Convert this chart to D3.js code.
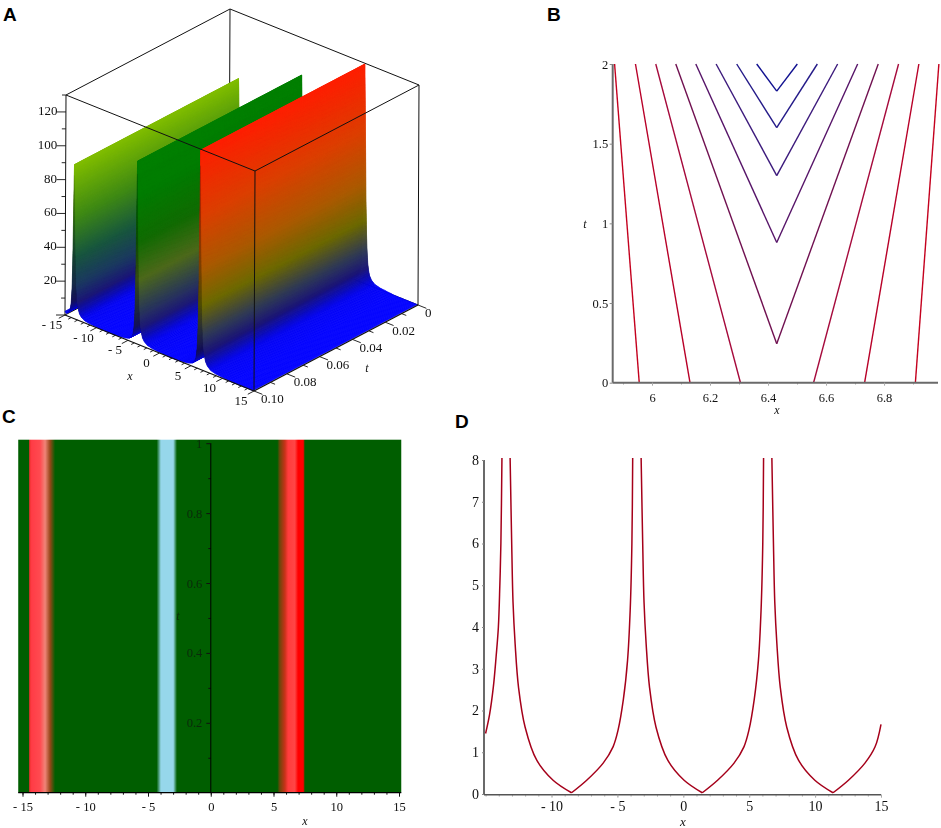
<!DOCTYPE html>
<html><head><meta charset="utf-8">
<script src="https://cdn.jsdelivr.net/npm/d3@7"></script>
<style>
html,body{margin:0;padding:0;background:#fff}
svg{display:block}
text{font-family:"Liberation Serif",serif;fill:#111}
.letter{font-family:"Liberation Sans",sans-serif;font-weight:700;font-size:19px;fill:#000}
.soft{filter:blur(.35px)}
.ax text{font-size:12.5px;font-family:"Liberation Serif",serif}
.ax.big text{font-size:14px}
.ital{font-style:italic;font-size:12px}
</style></head><body>
<svg id="c" width="941" height="828" viewBox="0 0 941 828"></svg>
<script>
// ---------- Panel A data ----------
const crestX=[-13.6,-3.6,6.4];
const crestPeak=[91,108,129.5];
const crestOffset=[0.05,0.1,0.15,0.2,0.3,0.4,0.5,0.6,0.75,0.9,1.2,1.7,2.5,5];
const crestShare=[0.93,0.82,0.69,0.57,0.36,0.22,0.15,0.10,0.065,0.045,0.028,0.015,0.008,0];
const crestBackNarrow=0.7;
const zLevels=[0,1.5,5,10,20,38,60,90,130];
const limeShades=["#0000ff","#0000f4","#0a0ab4","#1c1878","#1c3a62","#1a5a3c","#3f8a14","#7fbc00","#8cc800"];
const greenShades=["#0000ff","#0000f4","#0a0ab4","#1e1a78","#2c3a58","#4e6a1c","#126c04","#007e00","#008000"];
const redShades=["#0000ff","#0000f4","#0a0ab4","#1c1678","#303a58","#6e6a00","#ac5a00","#dc4000","#ff1e00"];
const xTicksA=[-15,-10,-5,0,5,10,15];
const xMinorA=d3.range(-15,16,1);
const tTicksA=[0,0.02,0.04,0.06,0.08,0.10];
const tMinorA=[0.01,0.03,0.05,0.07,0.09];
const zTicksA=[20,40,60,80,100,120];
const zMinorA=[10,30,50,70,90,110,130];
// ---------- Panel B data ----------
const contourLines=[
 [[5.871,2],[5.956,0]],
 [[5.943,2],[6.131,0]],
 [[6.013,2],[6.305,0]],
 [[6.082,2],[6.43,0.245]],
 [[6.151,2],[6.43,0.88]],
 [[6.221,2],[6.43,1.3]],
 [[6.292,2],[6.43,1.6]],
 [[6.361,2],[6.43,1.83]],
 [[6.43,1.83],[6.501,2]],
 [[6.43,1.6],[6.57,2]],
 [[6.43,1.3],[6.64,2]],
 [[6.43,0.88],[6.709,2]],
 [[6.43,0.245],[6.78,2]],
 [[6.557,0],[6.85,2]],
 [[6.733,0],[6.92,2]],
 [[6.908,0],[6.989,2]]
];
const contourShade=["#c4001e","#b80028","#a60a3c","#701050","#561468","#3c1a7c","#241a88","#101090",
 "#101090","#241a88","#3c1a7c","#561468","#701050","#a60a3c","#b80028","#c4001e"];
const xTicksB=[6,6.2,6.4,6.6,6.8];
const xMinorB=[5.9,6.1,6.3,6.5,6.7,6.9];
const tTicksB=[0,0.5,1,1.5,2];
// ---------- Panel C data ----------
const fieldX=[-15.34,15.18];
const fieldT=[0,1.01];
const bandX=[-14.5,-14.43,-14.27,-13.6,-13.2,-12.8,-12.4,-4.31,-3.97,-2.99,-2.69,5.3,5.5,5.91,6.16,6.7,6.96,7.37,7.5];
const bandColor=["#005e00","#f03030","#ff3c46","#ff4a50","#f08478","#964618","#005e00","#005e00","#96d7eb","#96d7eb","#005e00","#005e00","#6e460a","#c83219","#ff3c3c","#ff4646","#ff0000","#ff0000","#005e00"];
const xTicksC=[-15,-10,-5,0,5,10,15];
const xMinorC=d3.range(-15,16,1);
const tTicksC=[0.2,0.4,0.6,0.8,1];
const tMinorC=[0.1,0.3,0.5,0.7,0.9];
// ---------- Panel D data ----------
const curveX=[-15,-14.7,-14.41,-14.2,-14.03,-13.92,-13.84,-13.76,null,
 -13.14,-13.02,-12.92,-12.76,-12.5,-12.0,-11.12,-9.88,-8.48,null,
 -8.48,-7.33,-6.08,-5.33,-4.95,-4.55,-4.23,-4.03,-3.9,-3.84,null,
 -3.2,-3.08,-2.98,-2.82,-2.56,-2.07,-1.18,0.06,1.44,null,
 1.44,2.6,3.85,4.6,4.98,5.38,5.7,5.9,6.03,6.09,null,
 6.72,6.84,6.94,7.1,7.36,7.85,8.74,9.98,11.36,null,
 11.36,12.53,13.78,14.55,15];
const curveY=[1.45,1.9,2.57,3.3,4.0,5,6,8.05,null,
 8.05,6,4.6,3.6,2.55,1.6,0.81,0.33,0.03,null,
 0.03,0.33,0.74,1.13,1.53,2.26,3.2,4.4,6,8.05,null,
 8.05,6,4.6,3.6,2.55,1.6,0.81,0.33,0.03,null,
 0.03,0.33,0.74,1.13,1.53,2.26,3.2,4.4,6,8.05,null,
 8.05,6,4.6,3.6,2.55,1.6,0.81,0.33,0.03,null,
 0.03,0.33,0.74,1.13,1.67];
const xTicksD=[-10,-5,0,5,10,15];
const xMinorD=d3.range(-15,16,1);
const yTicksD=[0,1,2,3,4,5,6,7,8];

const svg=d3.select("#c");
const letters=[["A",3,21],["B",547,21],["C",2,423],["D",455,428]];
svg.selectAll("text.letter").data(letters).join("text").attr("class","letter")
  .attr("x",d=>d[1]).attr("y",d=>d[2]).text(d=>d[0]);

// ========== Panel A ==========
(function(){
 const g=svg.append("g").attr("class","soft");
 const sx=d3.scaleLinear().domain([-15,15]).range([[65,315],[254,391]]);
 const st=d3.scaleLinear().domain([0,0.1]).range([[164,-86],[0,0]]);
 const sz=d3.scaleLinear().domain([0,130]).range([[0,0],[1,-220]]);
 const P=(x,t,z)=>{const a=sx(x),b=st(t),c=sz(z);return [a[0]+b[0]+c[0],a[1]+b[1]+c[1]];};
 const edge=(a,b,w=1)=>g.append("line").attr("x1",a[0]).attr("y1",a[1]).attr("x2",b[0]).attr("y2",b[1]).attr("stroke","#111").attr("stroke-width",w);
 edge(P(-15,0,130),P(-15,0,0)); edge(P(-15,0,0),P(-15,0.1,0)); edge(P(-15,0,0),P(15,0,0));
 edge(P(-15,0,130),P(15,0,130)); edge(P(-15,0,130),P(-15,0.1,130));
 edge(P(15,0,130),P(15,0,0)); edge(P(-15,0.1,130),P(-15,0.1,0));
 const pal=[limeShades,greenShades,redShades].map(r=>d3.scaleLinear().domain(zLevels).range(r).interpolate(d3.interpolateRgb));
 let prof=[];
 crestX.forEach((c,i)=>{
   const pts=[];
   crestOffset.slice().reverse().forEach((o,j)=>{const s=crestShare[crestOffset.length-1-j];pts.push({x:c-o*crestBackNarrow,z:crestPeak[i]*s,i,back:true});});
   pts.push({x:c,z:crestPeak[i],i,back:false});
   crestOffset.forEach((o,j)=>pts.push({x:c+o,z:crestPeak[i]*crestShare[j],i,back:false}));
   prof=prof.concat(pts);
 });
 prof=prof.filter(d=>d.x>=-15);
 prof.unshift({x:-15,z:2.2,i:0,back:true});
 prof.push({x:14.85,z:0,i:2,back:false});
 prof.sort((a,b)=>a.x-b.x);
 const quads=[];
 for(let k=0;k<prof.length-1;k++){
   const a=prof[k],b=prof[k+1];
   const n=Math.max(1,Math.ceil(Math.abs(a.z-b.z)*3),Math.ceil(Math.abs(b.x-a.x)*5));
   for(let m=0;m<n;m++){
     const x0=a.x+(b.x-a.x)*m/n,x1=a.x+(b.x-a.x)*(m+1)/n;
     const z0=a.z+(b.z-a.z)*m/n,z1=a.z+(b.z-a.z)*(m+1)/n;
     const zm=(z0+z1)/2;
     let col=pal[b.i](zm);
     if(b.back&&zm>3) col=d3.color(col).darker(Math.min(0.9,(zm-3)*0.15)).formatRgb();
     quads.push({pts:[P(x0,0,z0),P(x1,0,z1),P(x1,0.1,z1),P(x0,0.1,z0)],col});
   }
 }
 g.append("g").selectAll("polygon").data(quads).join("polygon")
  .attr("points",d=>d.pts.map(p=>p[0].toFixed(2)+","+p[1].toFixed(2)).join(" "))
  .attr("fill",d=>d.col).attr("stroke",d=>d.col).attr("stroke-width",0.7);
 edge(P(-15,0.1,130),P(15,0.1,130)); edge(P(15,0.1,130),P(15,0,130));
 edge(P(15,0.1,130),P(15,0.1,0)); edge(P(-15,0.1,0),P(15,0.1,0),1.3); edge(P(15,0.1,0),P(15,0,0),1.3);
 const tick=(p,d,len)=>edge(p,[p[0]+d[0]*len,p[1]+d[1]*len],0.9);
 xMinorA.forEach(v=>tick(P(v,0.1,0),[-0.886,0.465],xTicksA.includes(v)?7:3.5));
 tTicksA.forEach(v=>tick(P(15,v,0),[0.93,0.37],9));
 tMinorA.forEach(v=>tick(P(15,v,0),[0.93,0.37],5));
 zTicksA.forEach(v=>tick(P(-15,0.1,v),[-1,0],9));
 zMinorA.forEach(v=>tick(P(-15,0.1,v),[-1,0],4));
 tick(P(-15,0.1,0),[-1,0],9);
 const label=(s,p,anc)=>g.append("text").attr("x",p[0]).attr("y",p[1]).attr("text-anchor",anc).attr("dominant-baseline","middle").style("font-size","13px").text(s);
 xTicksA.forEach(v=>{const p=P(v,0.1,0);label(v<0?"- "+(-v):String(v),[p[0]-13,p[1]+11],"middle");});
 tTicksA.forEach(v=>{const p=P(15,v,0);label(v===0?"0":v.toFixed(2),[p[0]+7,p[1]+9.5],"start");});
 zTicksA.forEach(v=>{const p=P(-15,0.1,v);label(String(v),[p[0]-8.5,p[1]],"end");});
 g.append("text").attr("class","ital").attr("x",130).attr("y",380).attr("text-anchor","middle").text("x");
 g.append("text").attr("class","ital").attr("x",367).attr("y",372).attr("text-anchor","middle").text("t");
})();

function styleAxis(sel,col,w,tickCol){
 sel.selectAll(".domain").attr("stroke",col).attr("stroke-width",w);
 sel.selectAll("line").attr("stroke",tickCol);
}

// ========== Panel B ==========
(function(){
 const g=svg.append("g").attr("class","soft");
 const x=d3.scaleLinear().domain([5.8645,6.986]).range([612.7,938]);
 const y=d3.scaleLinear().domain([0,2]).range([382.7,64]);
 const line=d3.line().x(d=>x(d[0])).y(d=>y(d[1]));
 g.selectAll("path.c").data(contourLines).join("path").attr("class","c").attr("d",line)
  .attr("fill","none").attr("stroke",(d,i)=>contourShade[i]).attr("stroke-width",1.4);
 g.append("g").attr("class","ax").attr("transform","translate(0,382.7)")
  .call(d3.axisBottom(x).tickValues(xMinorB).tickSize(2).tickFormat("")).call(s=>styleAxis(s,"none",0,"#bbb"));
 g.append("g").attr("class","ax").attr("transform","translate(0,382.7)")
  .call(d3.axisBottom(x).tickValues(xTicksB).tickSize(3).tickPadding(7).tickFormat(d=>String(d)))
  .call(s=>styleAxis(s,"#6a6a6a",2,"#aaa")).call(s=>s.selectAll(".domain").attr("d",`M${x.range()[0]},0H${x.range()[1]}`));
 g.append("g").attr("class","ax").attr("transform","translate(612.7,0)")
  .call(d3.axisLeft(y).tickValues(tTicksB).tickSize(3).tickPadding(1.5).tickFormat(d=>String(d)))
  .call(s=>styleAxis(s,"#6a6a6a",2,"#888")).call(s=>s.selectAll(".domain").attr("d",`M0,${y.range()[0]}V${y.range()[1]}`));
 g.append("text").attr("class","ital").attr("x",777).attr("y",414).attr("text-anchor","middle").text("x");
 g.append("text").attr("class","ital").attr("x",585).attr("y",228).attr("text-anchor","middle").text("t");
})();

// ========== Panel C ==========
(function(){
 const g=svg.append("g").attr("class","soft");
 const x=d3.scaleLinear().domain([-15,15]).range([22.5,399]);
 const y=d3.scaleLinear().domain([0,1]).range([792.7,443.2]);
 const x0=x(fieldX[0]),x1=x(fieldX[1]);
 const defs=svg.append("defs");
 const grad=defs.append("linearGradient").attr("id","field").attr("gradientUnits","userSpaceOnUse")
   .attr("x1",x0).attr("x2",x1).attr("y1",0).attr("y2",0);
 grad.selectAll("stop").data(bandX).join("stop")
   .attr("offset",d=>(x(d)-x0)/(x1-x0)).attr("stop-color",(d,i)=>bandColor[i]);
 g.append("rect").attr("x",x0).attr("width",x1-x0).attr("y",y(fieldT[1])).attr("height",y(fieldT[0])-y(fieldT[1])).attr("fill","url(#field)");
 g.append("g").attr("class","ax").attr("transform","translate(0,792.7)")
  .call(d3.axisBottom(x).tickValues(xMinorC).tickSize(2).tickFormat("")).call(s=>styleAxis(s,"none",0,"#111"));
 g.append("g").attr("class","ax").attr("transform","translate(0,792.7)")
  .call(d3.axisBottom(x).tickValues(xTicksC).tickSize(4).tickPadding(5).tickFormat(d=>d<0?"- "+(-d):String(d)))
  .call(s=>styleAxis(s,"#000",1.2,"#111")).call(s=>s.selectAll(".domain").attr("d",`M${x0},0H${x1}`));
 g.append("g").attr("class","ax").attr("transform","translate(210.8,0)")
  .call(d3.axisLeft(y).tickValues(tMinorC).tickSize(2.5).tickFormat("")).call(s=>styleAxis(s,"none",0,"#111"));
 g.append("g").attr("class","ax").attr("transform","translate(210.8,0)")
  .call(d3.axisLeft(y).tickValues(tTicksC).tickSize(4.5).tickPadding(4).tickFormat(d=>d===1?"1":d.toFixed(1)))
  .call(s=>styleAxis(s,"#000",1,"#111")).call(s=>s.selectAll(".domain").attr("d",`M0,${y(0)}V${y(1)}`))
  .call(s=>s.selectAll("text").style("fill","#0a2a0a"));
 g.append("text").attr("class","ital").attr("x",305).attr("y",825).attr("text-anchor","middle").text("x");
 g.append("text").attr("class","ital").attr("x",178).attr("y",620).attr("text-anchor","middle").style("fill","#0a2a0a").text("t");
})();

// ========== Panel D ==========
(function(){
 const g=svg.append("g").attr("class","soft");
 const x=d3.scaleLinear().domain([-15,15]).range([485.6,881]);
 const y=d3.scaleLinear().domain([0,8]).range([794,460]);
 const pts=curveX.map((v,i)=>({x:v,y:curveY[i]}));
 const line=d3.line().defined(d=>d.y!==null).x(d=>x(d.x)).y(d=>y(d.y)).curve(d3.curveCatmullRom.alpha(0.5));
 g.append("path").attr("d",line(pts)).attr("fill","none").attr("stroke","#a5001a").attr("stroke-width",1.5);
 g.append("g").attr("class","ax big").attr("transform","translate(0,794.7)")
  .call(d3.axisBottom(x).tickValues(xMinorD).tickSize(2).tickFormat("")).call(s=>styleAxis(s,"none",0,"#bbb"));
 g.append("g").attr("class","ax big").attr("transform","translate(0,794.7)")
  .call(d3.axisBottom(x).tickValues(xTicksD).tickSize(3).tickPadding(3).tickFormat(d=>d<0?"- "+(-d):String(d)))
  .call(s=>styleAxis(s,"#555",1.6,"#aaa")).call(s=>s.selectAll(".domain").attr("d",`M484,0H881`));
 g.append("g").attr("class","ax big").attr("transform","translate(484,0)")
  .call(d3.axisLeft(y).tickValues(yTicksD).tickSize(2).tickPadding(3).tickFormat(d=>String(d)))
  .call(s=>styleAxis(s,"#444",1.6,"#888")).call(s=>s.selectAll(".domain").attr("d",`M0,${y(0)}V${y(8)}`));
 g.append("text").attr("class","ital").style("font-size","13px").attr("x",683).attr("y",826).attr("text-anchor","middle").text("x");
})();
</script>
</body></html>
